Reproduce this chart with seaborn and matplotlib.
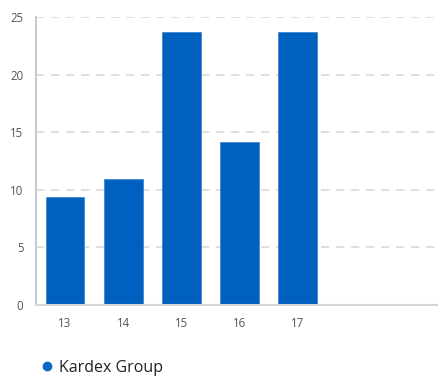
import matplotlib
matplotlib.use("Agg")
import matplotlib.pyplot as plt
import seaborn as sns
import pandas as pd
from matplotlib.lines import Line2D

categories = ["13", "14", "15", "16", "17"]
values = [9.35, 10.9, 23.7, 14.15, 23.7]
series_name = "Kardex Group"
yticks = [0, 5, 10, 15, 20, 25]

sns.set_style("white")
plt.rcParams['font.family'] = ['Open Sans', 'DejaVu Sans']

df = pd.DataFrame({"year": categories, "value": values})

fig = plt.figure(figsize=(4.39, 3.76), dpi=100)
ax = fig.add_axes([36/439, 71/376, 403/439, 288/376])

bar_color = "#0060C0"
sns.barplot(data=df, x="year", y="value", color=bar_color, width=0.67,
            saturation=1, ax=ax, zorder=3, edgecolor="#3f86d4", linewidth=0.6)

ax.set_xlim(-0.5, 6.44)
ax.set_ylim(0, 25)
ax.set_yticks(yticks)
ax.set_yticklabels([str(t) for t in yticks])
ax.set_xlabel("")
ax.set_ylabel("")

ax.grid(axis="y", color="#d9d9d9", linestyle=(0, (5, 4)), linewidth=1.2, zorder=0)
ax.grid(axis="x", visible=False)

for s in ["top", "right"]:
    ax.spines[s].set_visible(False)
ax.spines["left"].set_color("#c3cbd8")
ax.spines["left"].set_linewidth(1.5)
ax.spines["bottom"].set_color("#d3d6db")
ax.spines["bottom"].set_linewidth(1.5)
ax.spines["left"].set_zorder(4)
ax.spines["bottom"].set_zorder(4)

ax.tick_params(axis="both", length=0, labelsize=8.3, labelcolor="#555555")
ax.tick_params(axis="x", pad=8.5)
ax.tick_params(axis="y", pad=9)

handle = Line2D([0], [0], marker="o", color="w", markerfacecolor="#0a6ac3",
                markeredgecolor="#0a6ac3", markersize=6, linestyle="")
fig.legend([handle], [series_name], loc="center left",
           bbox_to_anchor=(40/439, 1 - 368/376), frameon=False,
           borderpad=0, borderaxespad=0,
           fontsize=11.5, handletextpad=0.3, handlelength=0.9, labelcolor="#222222")

fig.savefig("out.png", dpi=100)
